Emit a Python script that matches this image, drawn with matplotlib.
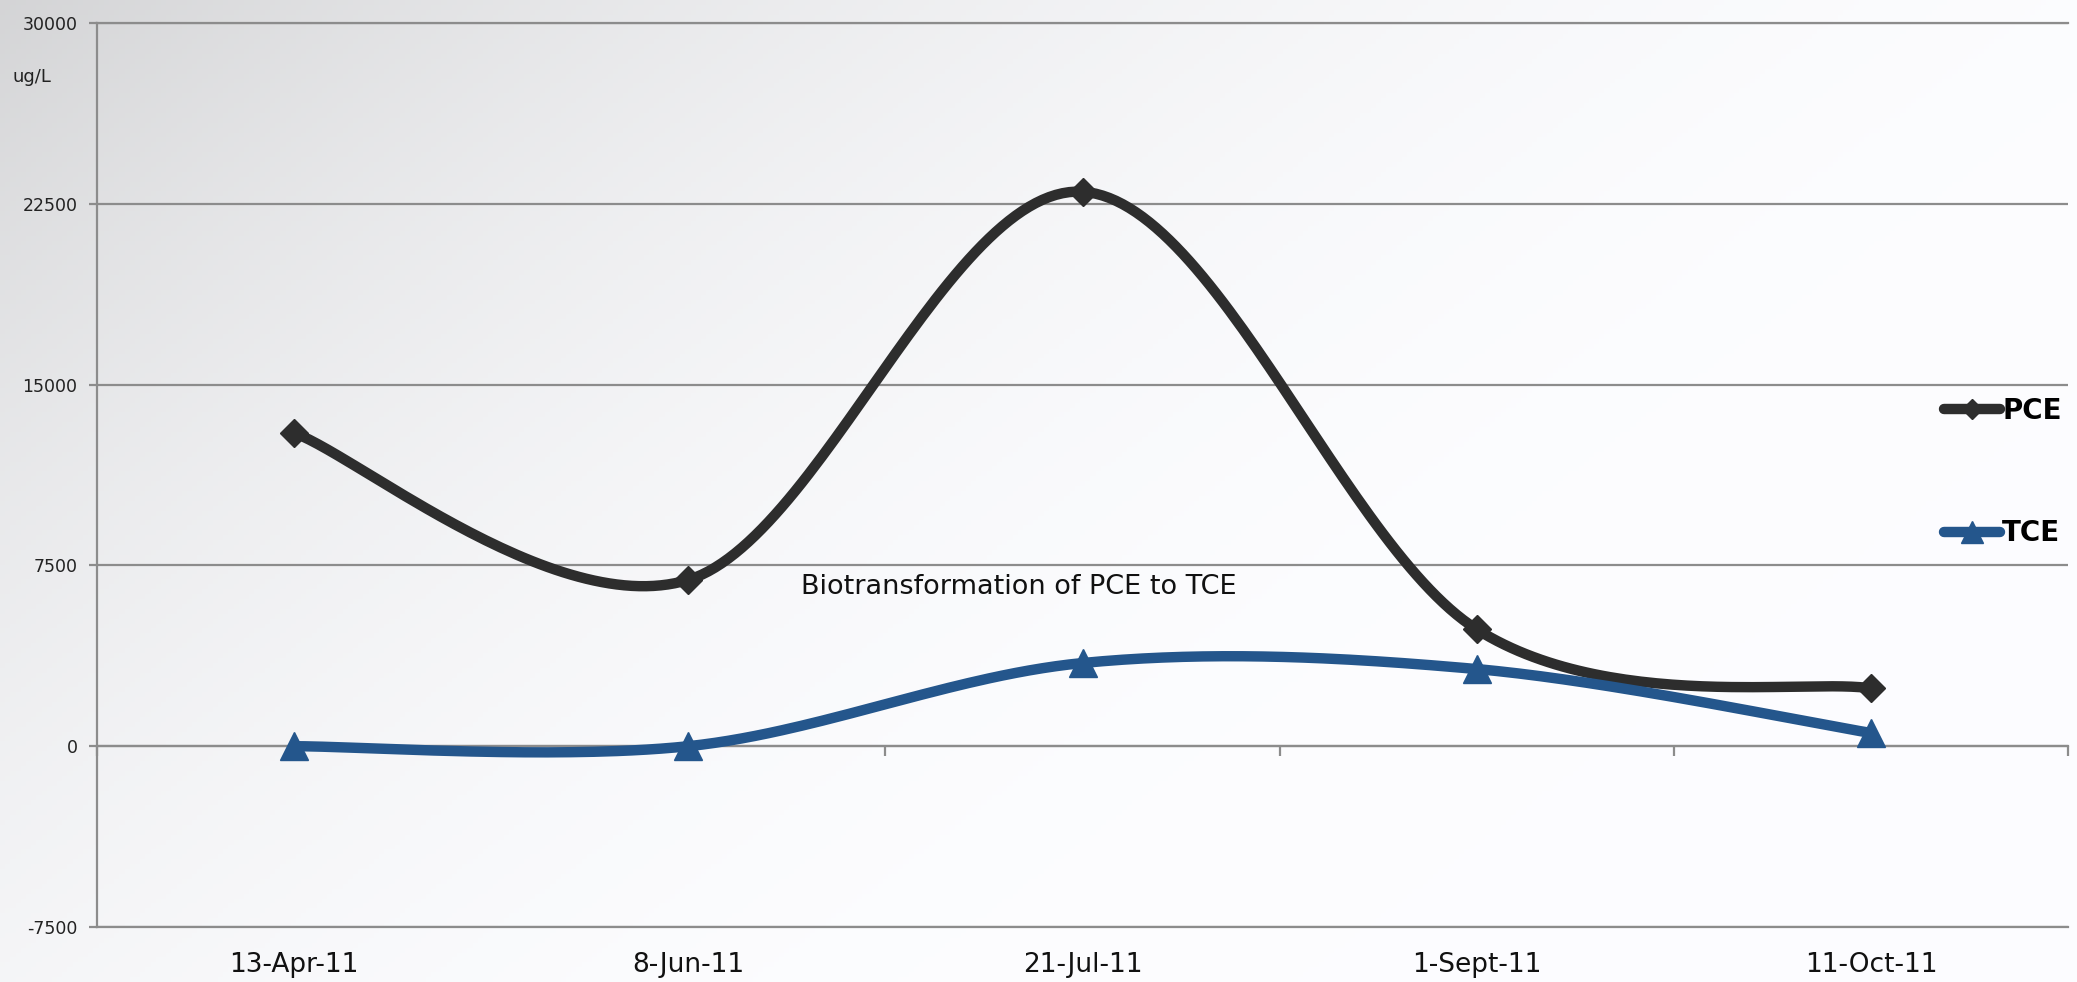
import numpy as np
import matplotlib
matplotlib.use("Agg")
import matplotlib.pyplot as plt
from matplotlib.lines import Line2D

dates = ["13-Apr-11", "8-Jun-11", "21-Jul-11", "1-Sept-11", "11-Oct-11"]
pce = [13000, 6900, 23000, 4850, 2400]
tce = [0, 0, 3450, 3200, 550]
yticks = [-7500, 0, 7500, 15000, 22500, 30000]

PCE_COL = "#2d2d2d"
TCE_COL = "#24568c"
GRID = "#8c8c8c"

plt.rcParams['font.family'] = ['DejaVu Sans']


def smooth(x, y, n=60):
    # Excel-style smoothed line: Catmull-Rom as cubic Bezier segments
    p = np.column_stack([x, y]).astype(float)
    p_ext = np.vstack([p[0], p, p[-1]])
    out = []
    t = np.linspace(0, 1, n)[:, None]
    for i in range(len(p) - 1):
        p0, p3 = p_ext[i + 1], p_ext[i + 2]
        c1 = p0 + (p_ext[i + 2] - p_ext[i]) / 6
        c2 = p3 - (p_ext[i + 3] - p_ext[i + 1]) / 6
        seg = ((1 - t) ** 3) * p0 + 3 * ((1 - t) ** 2) * t * c1 \
            + 3 * (1 - t) * t ** 2 * c2 + t ** 3 * p3
        out.append(seg if i == 0 else seg[1:])
    s = np.vstack(out)
    return s[:, 0], s[:, 1]


W, H = 2077, 982
fig = plt.figure(figsize=(W / 100, H / 100), dpi=100)

# background gradient (grey top-left fading to white)
bg = fig.add_axes([0, 0, 1, 1], zorder=-10)
gx, gy = np.meshgrid(np.linspace(0, 1, 400), np.linspace(0, 1, 200))
tt = np.clip(1 - (gx * 0.8 + gy * 0.5), 0, 1)
shade = 1 - 0.16 * tt ** 2.4
img = np.dstack([shade * 0.99, shade * 0.992, shade * 1.0])
img = np.clip(img, 0, 1)
bg.imshow(img, extent=[0, 1, 0, 1], aspect='auto', origin='upper')
bg.axis('off')

ax = fig.add_axes([97 / W, 1 - 927 / H, 1971 / W, (927 - 23) / H])
ax.patch.set_alpha(0)
ax.set_xlim(0, 5)
ax.set_ylim(-7500, 30000)

x = np.arange(len(dates)) + 0.5

ax.set_yticks(yticks)
ax.set_yticklabels([str(v) for v in yticks], fontsize=12.5, color="#222222")
ax.yaxis.grid(True, color=GRID, lw=1.6)
ax.tick_params(axis='y', length=6, width=1.6, color=GRID, pad=8)

ax.spines['right'].set_visible(False)
for s in ['left', 'top', 'bottom']:
    ax.spines[s].set_color(GRID)
    ax.spines[s].set_linewidth(1.6)
ax.spines['bottom'].set_position(('data', 0))

# category boundary ticks on the zero line
ax.set_xticks(np.arange(0, 6))
ax.set_xticklabels([])
ax.tick_params(axis='x', length=7, width=1.6, color=GRID, direction='out')

# category labels at the bottom
sec = ax.secondary_xaxis(0.0)
sec.set_xticks(x)
sec.set_xticklabels(dates, fontsize=19, color="#111111")
sec.tick_params(length=0, pad=18)
sec.spines['bottom'].set_color(GRID)
sec.spines['bottom'].set_linewidth(1.6)

xs, ys = smooth(x, pce)
ax.plot(xs, ys, color=PCE_COL, lw=7.5, solid_capstyle='round', zorder=3)
ax.plot(x, pce, 'D', color=PCE_COL, ms=14, zorder=4)
xs, ys = smooth(x, tce)
ax.plot(xs, ys, color=TCE_COL, lw=7.5, solid_capstyle='round', zorder=3)
ax.plot(x, tce, '^', color=TCE_COL, ms=20, zorder=4)

ax.text(1.785, 6600, "Biotransformation of PCE to TCE", fontsize=19.5,
        color="#111111", ha='left', va='center')

fig.text(13 / W, 1 - 77 / H, "ug/L", fontsize=13, color="#222222",
         ha='left', va='center')

handles = [
    Line2D([], [], color=PCE_COL, lw=7.5, marker='D', ms=10,
           solid_capstyle='round'),
    Line2D([], [], color=TCE_COL, lw=7.5, marker='^', ms=16,
           solid_capstyle='round'),
]
fig.legend(handles, ["PCE", "TCE"], loc='center left',
           bbox_to_anchor=(1944 / W, 1 - 472 / H), frameon=False,
           prop={'size': 20, 'weight': 'bold'}, handlelength=2.0,
           handletextpad=0.1, labelspacing=3.4, borderpad=0,
           borderaxespad=0)

fig.savefig("out.png", dpi=100)
